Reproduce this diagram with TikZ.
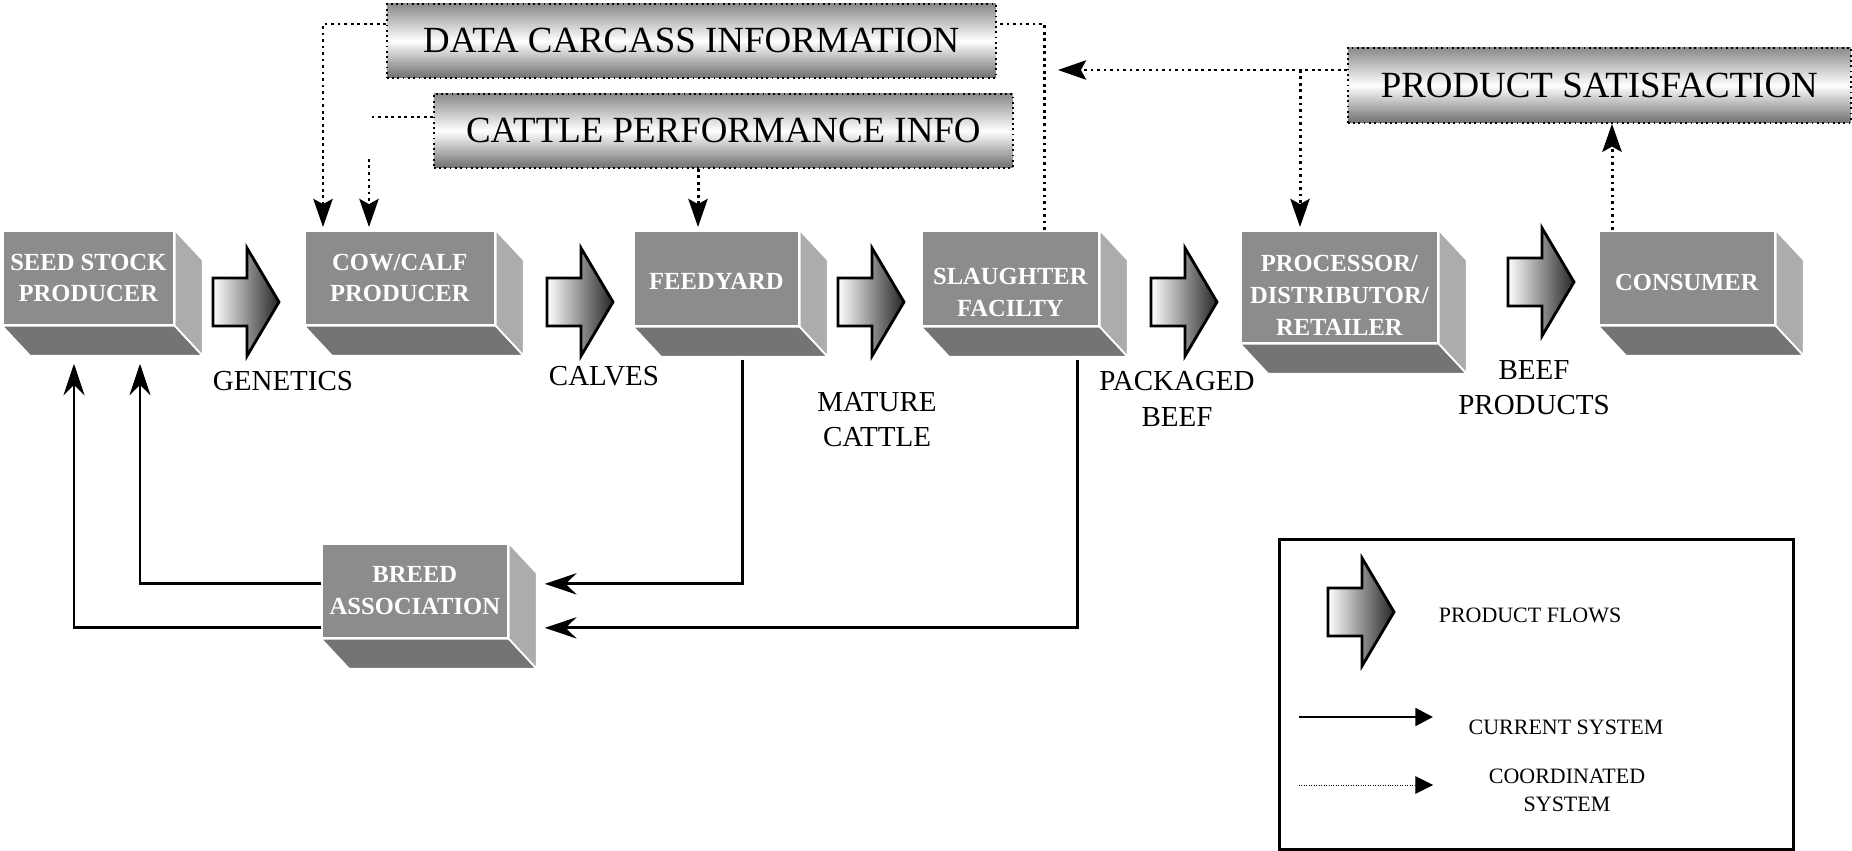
\documentclass[tikz,border=0pt]{standalone}
\usepackage{fontspec}
\setmainfont{Liberation Serif}
\usetikzlibrary{arrows.meta,calc}

\definecolor{cubefront}{RGB}{140,140,140}
\definecolor{cubebottom}{RGB}{116,116,116}
\definecolor{cubeside}{RGB}{172,172,172}
\definecolor{bandgray}{RGB}{138,138,138}

\tikzset{
  cube/.style={fill=cubefront, draw=white, line width=1pt, text=white, align=center,
    font=\fontsize{14}{18}\selectfont\bfseries, inner sep=0pt, anchor=north west},
  infobox/.style={draw, dotted, line width=1pt, top color=bandgray, bottom color=bandgray!80!black,
    middle color=white, font=\fontsize{21}{25}\selectfont, inner sep=0pt, anchor=north west},
  infoline/.style={dotted, line width=1.7pt},
  infotip/.style={-{Stealth[length=16pt, width=11pt, inset=3pt]}},
  flowline/.style={line width=1.7pt},
  flowtip/.style={-{Stealth[length=18pt, width=12pt, inset=6pt]}},
  flowlabel/.style={font=\fontsize{16.5}{20}\selectfont, align=center},
  legendlabel/.style={font=\fontsize{12.5}{16}\selectfont, align=center},
  flowshape/.style={draw, line width=1.6pt, line join=miter, left color=white, right color=black!85},
}

% bottom and right faces of a box node
\newcommand{\cubefaces}[1]{%
  \filldraw[draw=white, line width=1pt, fill=cubebottom] (#1.south west) -- ++(28,30)
    -- ($(#1.south east)+(28,30)$) -- (#1.south east) -- cycle;
  \filldraw[draw=white, line width=1pt, fill=cubeside] (#1.north east) -- ++(28,30)
    -- ($(#1.south east)+(28,30)$) -- (#1.south east) -- cycle;
}
% block arrow: left x, centre y
\newcommand{\productflow}[2]{%
  \draw[flowshape] (#1,#2) ++(0,-24) -- ++(34,0) -- ++(0,-30) -- ++(32,54)
    -- ++(-32,54) -- ++(0,-30) -- ++(-34,0) -- cycle;
}

\begin{document}
\begin{tikzpicture}[x=0.02cm, y=-0.02cm]
\useasboundingbox (0,0) rectangle (1852,851);

% chain of boxes
\node[cube, minimum width=3.42cm, minimum height=1.88cm] (seed) at (2,230) {SEED STOCK\\PRODUCER};
\node[cube, minimum width=3.8cm, minimum height=1.88cm] (cow) at (304,230) {COW/CALF\\PRODUCER};
\node[cube, minimum width=3.3cm, minimum height=1.9cm] (feed) at (633,230) {\rule{0pt}{13pt}FEEDYARD};
\node[cube, minimum width=3.54cm, minimum height=1.9cm] (slaughter) at (921,230) {\rule{0pt}{25pt}SLAUGHTER\\FACILTY};
\node[cube, minimum width=3.94cm, minimum height=2.24cm] (proc) at (1240,230) {\rule{0pt}{19pt}PROCESSOR/\\DISTRIBUTOR/\\RETAILER};
\node[cube, minimum width=3.52cm, minimum height=1.88cm] (cons) at (1598,230) {\rule{0pt}{15pt}CONSUMER};
\node[cube, minimum width=3.72cm, minimum height=1.88cm] (breed) at (321,543) {BREED\\ASSOCIATION};
\foreach \b in {seed,cow,feed,slaughter,proc,cons,breed} {\cubefaces{\b}}

% product flows
\productflow{213}{302}
\productflow{547}{302}
\productflow{838}{302}
\productflow{1151}{302}
\productflow{1508}{282}

\node[flowlabel] (genetics) at (283,381) {GENETICS};
\node[flowlabel] (calves) at (604,376) {CALVES};
\node[flowlabel] (mature) at (877,420) {MATURE\\CATTLE};
\node[flowlabel] (packaged) at (1177,399) {PACKAGED\\BEEF};
\node[flowlabel] (beefprod) at (1534,388) {BEEF\\PRODUCTS};

% information boxes
\node[infobox, minimum width=12.18cm, minimum height=1.48cm] (data) at (386,3) {DATA CARCASS INFORMATION};
\node[infobox, minimum width=11.58cm, minimum height=1.48cm] (cattle) at (433,93) {CATTLE PERFORMANCE INFO};
\node[infobox, minimum width=10.06cm, minimum height=1.5cm] (satisf) at (1347,47) {PRODUCT SATISFACTION};

% coordinated system
\coordinate (cowinA) at ($(cow.north west)+(19,-3)$);
\coordinate (cowinB) at ($(cow.north west)+(65,-3)$);
\coordinate (gapend) at ($(cowinB)+(0,-68)$);
\coordinate (feedin) at ($(feed.north west)+(65,-3)$);
\coordinate (procin) at ($(proc.north west)+(60,-3)$);
\coordinate (consout) at ($(cons.north west)+(14,0)$);
\coordinate (satback) at (1058,70);
\draw[infoline, infotip] ($(data.north west)+(0,21)$) -| (cowinA);
\draw[infoline] ($(cattle.north west)+(0,24)$) -- ++(-63,0);
\draw[infoline, infotip] (gapend) -- (cowinB);
\draw[infoline, infotip] (cattle.south -| feedin) -- (feedin);
\draw[infoline] ($(slaughter.north west)+(123,0)$) |- ($(data.north east)+(0,21)$);
\draw[infoline, infotip] ($(satisf.north west)+(0,23)$) -- (satback);
\draw[infoline, infotip] (satback -| procin) -- (procin);
\draw[infoline, infotip] (consout) -- (consout |- satisf.south);

% current system
\coordinate (feedout) at ($(feed.south west)+(109,33)$);
\coordinate (slaughout) at ($(slaughter.south west)+(156,33)$);
\draw[flowline, flowtip] (feedout) |- ($(breed.east)+(36,-7)$);
\draw[flowline, flowtip] (slaughout) |- ($(breed.east)+(36,37)$);
\draw[flowline, flowtip] ($(breed.west)+(0,-7)$) -| ($(seed.south west)+(138,38)$);
\draw[flowline, flowtip] ($(breed.west)+(0,37)$) -| ($(seed.south west)+(72,38)$);

% legend
\node[draw, line width=1.5pt, minimum width=10.28cm, minimum height=6.2cm, anchor=north west] (legend) at (1278,538) {};
\productflow{1328}{612}
\node[legendlabel] (lflow) at (1530,615) {PRODUCT FLOWS};
\draw[flowline, -{Triangle[length=10pt, width=10pt]}] ($(legend.north west)+(21,179)$) -- ++(134,0);
\draw[densely dotted, thin, -{Triangle[length=10pt, width=10pt]}] ($(legend.north west)+(21,247)$) -- ++(134,0);
\node[legendlabel] (lcurrent) at (1566,727) {CURRENT SYSTEM};
\node[legendlabel] (lcoord) at (1567,790) {COORDINATED\\SYSTEM};
\end{tikzpicture}
\end{document}
